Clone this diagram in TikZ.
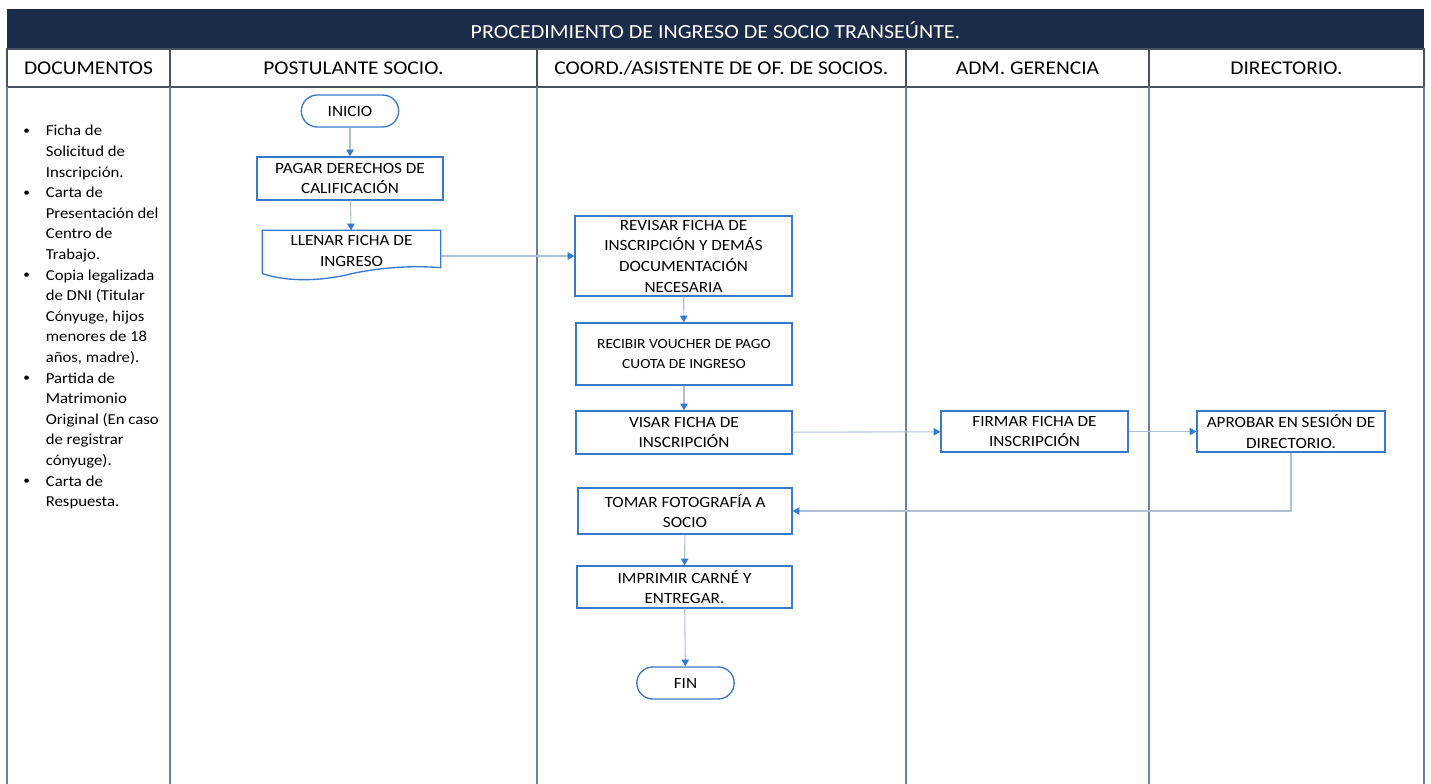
\documentclass[tikz,border=0pt]{standalone}
\usepackage{fontspec}
\setmainfont{Carlito}[FakeStretch=1.1]
\usetikzlibrary{arrows.meta,calc}
\definecolor{navy}{HTML}{1C2B48}
\definecolor{headline}{HTML}{4A5262}
\definecolor{laneblue}{HTML}{6483AA}
\definecolor{boxblue}{HTML}{3A78C9}
\definecolor{flowgray}{HTML}{AFC0D5}
\definecolor{tipblue}{HTML}{2E7BD6}
\begin{document}
\begin{tikzpicture}[x=0.75pt,y=-0.75pt,
  head/.style={font=\fontsize{14.6}{17}\selectfont},
  lane/.style={draw=laneblue, line width=1.1pt},
  proc/.style={draw=boxblue, line width=1pt, fill=white, align=center, inner sep=0pt,
    font=\fontsize{11.7}{15.5}\selectfont},
  term/.style={proc, rounded corners=12pt, minimum width=73pt, minimum height=24pt},
  flow/.style={draw=flowgray, line width=0.8pt, -{Triangle[length=5pt,width=5.5pt,color=tipblue]}}]
\useasboundingbox (0,0) rectangle (1431,784);

% frame
\fill[navy] (7,9) rectangle (1424,49);
\node[text=white, font=\fontsize{15}{18}\selectfont] (title) at (715.5,30) {PROCEDIMIENTO DE INGRESO DE SOCIO TRANSEÚNTE.};
\draw[headline, line width=1.1pt] (7,49) rectangle (1424,87);
\foreach \x in {170,537,906,1149} \draw[headline, line width=1.1pt] (\x,49) -- (\x,87);
\foreach \x in {7,170,537,906,1149,1424} \draw[lane] (\x,87) -- (\x,784);

\node[head] (hdoc) at (88.5,68) {DOCUMENTOS};
\node[head] (hpost) at (353.5,68) {POSTULANTE SOCIO.};
\node[head] (hcoord) at (721.5,68) {COORD./ASISTENTE DE OF. DE SOCIOS.};
\node[head] (hadm) at (1027.5,68) {ADM. GERENCIA};
\node[head] (hdir) at (1286.5,68) {DIRECTORIO.};

\node[anchor=base west, inner sep=0pt, font=\fontsize{11.4}{15.45}\selectfont] (docs) at (23,136) {%
\begin{tabular}[t]{@{}l@{\hspace{12pt}}l@{}}
\raisebox{1pt}{\small\textbullet} & Ficha de\\
 & Solicitud de\\
 & Inscripción.\\
\raisebox{1pt}{\small\textbullet} & Carta de\\
 & Presentación del\\
 & Centro de\\
 & Trabajo.\\
\raisebox{1pt}{\small\textbullet} & Copia legalizada\\
 & de DNI (Titular\\
 & Cónyuge, hijos\\
 & menores de 18\\
 & años, madre).\\
\raisebox{1pt}{\small\textbullet} & Partida de\\
 & Matrimonio\\
 & Original (En caso\\
 & de registrar\\
 & cónyuge).\\
\raisebox{1pt}{\small\textbullet} & Carta de\\
 & Respuesta.
\end{tabular}};

% postulante
\node[term] (inicio) at (350,111) {INICIO};
\node[proc, minimum width=139.5pt, minimum height=32.25pt] (pagar) at (350,178.5) {PAGAR DERECHOS DE\\CALIFICACIÓN};
\node[proc, draw=none, fill=none, minimum width=132.75pt, minimum height=30pt] (llenar) at (351.5,251) {LLENAR FICHA DE\\INGRESO};
\draw[boxblue, line width=1pt] ($(llenar.south west)+(0,2)$) -- (llenar.north west) -- (llenar.north east)
  -- ($(llenar.south east)+(0,-4)$) .. controls +(-25,-2) and +(33,-7) .. ($(llenar.south)+(0,2)$)
  .. controls +(-27,7) and +(27,9) .. ($(llenar.south west)+(0,2)$);

% coordinacion
\node[proc, minimum width=162.75pt, minimum height=60pt] (revisar) at (683.5,256) {REVISAR FICHA DE\\INSCRIPCIÓN Y DEMÁS\\DOCUMENTACIÓN\\NECESARIA};
\node[proc, minimum width=162pt, minimum height=46.5pt, font=\fontsize{10.5}{15.5}\selectfont] (recibir) at (684,354) {RECIBIR VOUCHER DE PAGO\\CUOTA DE INGRESO};
\node[proc, minimum width=162pt, minimum height=32.25pt] (visar) at (684,432.5) {VISAR FICHA DE\\INSCRIPCIÓN};
\node[proc, minimum width=160.5pt, minimum height=34.5pt] (tomar) at (685,511) {TOMAR FOTOGRAFÍA A\\SOCIO};
\node[proc, minimum width=161.25pt, minimum height=31.5pt] (imprimir) at (684.5,587) {IMPRIMIR CARNÉ Y\\ENTREGAR.};
\node[term] (fin) at (685.5,683) {FIN};

% gerencia y directorio
\node[proc, minimum width=140.25pt, minimum height=30.75pt] (firmar) at (1034.5,431.5) {FIRMAR FICHA DE\\INSCRIPCIÓN};
\node[proc, minimum width=141pt, minimum height=30.75pt] (aprobar) at (1291,431.5) {APROBAR EN SESIÓN DE\\DIRECTORIO.};

\draw[flow] (inicio) -- (pagar);
\draw[flow] (pagar) -- (llenar);
\draw[flow] (llenar.east |- revisar) -- (revisar.west);
\draw[flow] (revisar) -- (recibir);
\draw[flow] (recibir) -- (visar);
\draw[flow] (visar) -- (firmar);
\draw[flow] (firmar) -- (aprobar);
\draw[flow] (aprobar.south) |- (tomar.east);
\draw[flow] (tomar) -- (imprimir);
\draw[flow] (imprimir) -- (fin);
\end{tikzpicture}
\end{document}
